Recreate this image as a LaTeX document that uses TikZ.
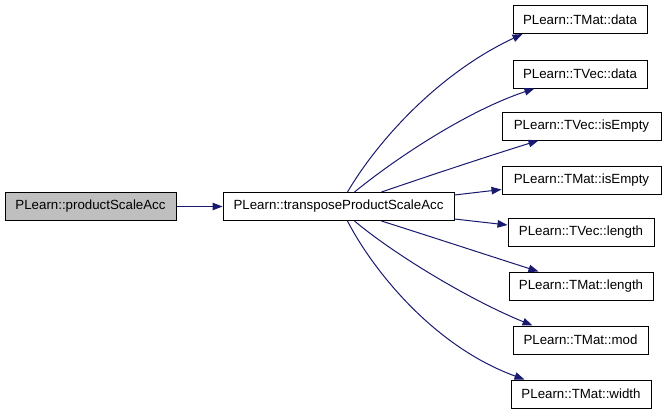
\documentclass[tikz,border=0pt]{standalone}
\usepackage{fontspec}
\setmainfont{Liberation Sans}
\usetikzlibrary{arrows.meta}
\definecolor{edgeblue}{HTML}{191970}
\definecolor{graygray}{HTML}{BFBFBF}
\begin{document}
\begin{tikzpicture}[x=1pt,y=-1pt,
  box/.style={draw=black,line width=1pt,minimum height=28pt,inner sep=0pt,font=\fontsize{13.3}{16}\selectfont,fill=white},
  edge/.style={draw=edgeblue,line width=1pt,-{Triangle[length=10pt,width=7.5pt]}}]
\useasboundingbox (0,0) rectangle (667,413);
\node[box,fill=graygray,minimum width=171pt] (a) at (90.5,206.5) {PLearn::productScaleAcc};
\node[box,minimum width=231pt] (b) at (338.5,206.5) {PLearn::transposeProductScaleAcc};
\node[box,minimum width=134pt] (c1) at (580,19.5) {PLearn::TMat::data};
\node[box,minimum width=134pt] (c2) at (580,74) {PLearn::TVec::data};
\node[box,minimum width=159pt] (c3) at (581.5,126) {PLearn::TVec::isEmpty};
\node[box,minimum width=159pt] (c4) at (581.5,180) {PLearn::TMat::isEmpty};
\node[box,minimum width=146pt] (c5) at (581,232.5) {PLearn::TVec::length};
\node[box,minimum width=144pt] (c6) at (581,286) {PLearn::TMat::length};
\node[box,minimum width=135pt] (c7) at (580.5,340) {PLearn::TMat::mod};
\node[box,minimum width=140pt] (c8) at (581,394) {PLearn::TMat::width};
\draw[edge] (a.east) -- (b.west);
\draw[edge] ([xshift=125pt]b.north west) .. controls (375,145) and (435,75) .. ([xshift=10pt]c1.south west);
\draw[edge] ([xshift=132pt]b.north west) .. controls (400,155) and (470,110) .. ([xshift=22pt]c2.south west);
\draw[edge] ([xshift=159pt]b.north west) .. controls (440,172) and (495,154) .. ([xshift=37pt]c3.south west);
\draw[edge] ([yshift=-3pt]b.north east) -- ([yshift=5pt]c4.south west);
\draw[edge] ([yshift=2pt]b.south east) -- ([yshift=-7pt]c5.north west);
\draw[edge] ([xshift=159pt]b.south west) .. controls (435,238) and (490,256) .. ([xshift=30pt]c6.north west);
\draw[edge] ([xshift=132pt]b.south west) .. controls (395,255) and (470,300) .. ([xshift=20pt]c7.north west);
\draw[edge] ([xshift=125pt]b.south west) .. controls (370,265) and (430,345) .. ([xshift=14pt]c8.north west);
\end{tikzpicture}
\end{document}
